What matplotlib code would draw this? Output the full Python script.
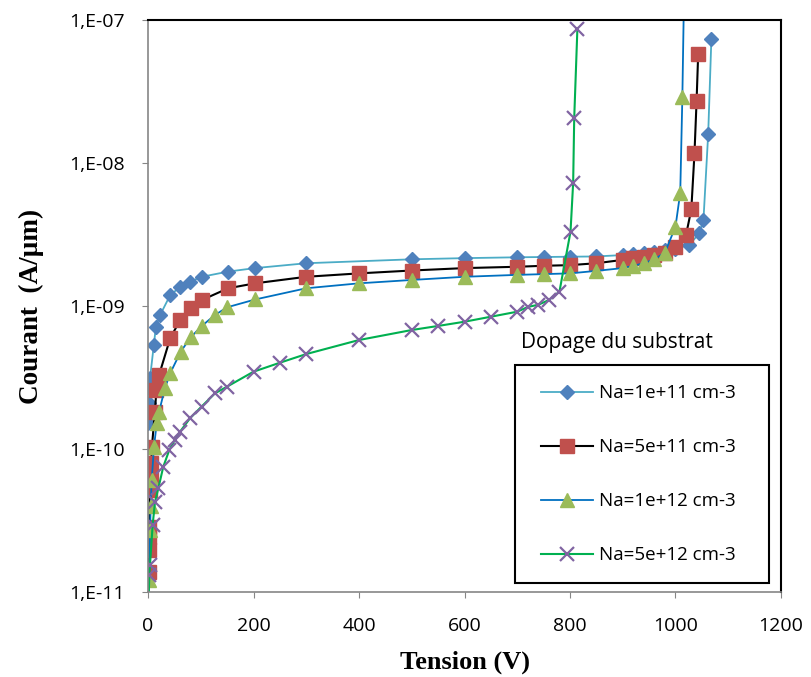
import math

import matplotlib
matplotlib.use('Agg')
import matplotlib.pyplot as plt
from matplotlib.patches import Rectangle
from matplotlib.ticker import FixedLocator, FuncFormatter, NullLocator

# Na = 1e+11 cm-3
v_1e11 = [0.6, 1.9, 2.5, 3.8, 11, 15, 23, 42, 61, 80, 102, 152, 203, 300, 500,
          600, 700, 750, 800, 850, 900, 920, 940, 960, 980, 1000, 1026, 1045,
          1053, 1062, 1068]
i_1e11 = [1.51e-10, 2.09e-10, 2.66e-10, 3.12e-10, 5.33e-10, 7.16e-10, 8.65e-10,
          1.19e-9, 1.36e-9, 1.48e-9, 1.60e-9, 1.74e-9, 1.84e-9, 1.99e-9, 2.12e-9,
          2.16e-9, 2.19e-9, 2.20e-9, 2.21e-9, 2.22e-9, 2.27e-9, 2.30e-9, 2.34e-9,
          2.40e-9, 2.45e-9, 2.52e-9, 2.67e-9, 3.22e-9, 3.99e-9, 1.60e-8, 7.33e-8]

# Na = 5e+11 cm-3
v_5e11 = [1, 1.5, 2, 2.5, 3.5, 5, 6, 7.5, 13, 16, 21, 42, 61, 81, 102, 152, 203,
          300, 400, 500, 600, 700, 750, 800, 850, 900, 920, 940, 960, 980, 1000,
          1020, 1030, 1036, 1040, 1043]
i_5e11 = [1.39e-11, 1.97e-11, 2.44e-11, 2.86e-11, 5.17e-11, 6.40e-11, 7.94e-11,
          1.04e-10, 1.82e-10, 2.59e-10, 3.29e-10, 5.94e-10, 7.98e-10, 9.63e-10,
          1.10e-9, 1.33e-9, 1.44e-9, 1.60e-9, 1.69e-9, 1.77e-9, 1.84e-9, 1.88e-9,
          1.91e-9, 1.93e-9, 1.99e-9, 2.10e-9, 2.15e-9, 2.21e-9, 2.27e-9, 2.36e-9,
          2.57e-9, 3.14e-9, 4.74e-9, 1.17e-8, 2.73e-8, 5.78e-8]

# Na = 1e+12 cm-3
v_1e12 = [0.3, 1.5, 4, 5, 7, 11.4, 16.5, 21, 32, 42, 62, 81, 102, 127, 150, 203,
          300, 400, 500, 600, 700, 750, 800, 850, 900, 920, 940, 960, 980, 1000,
          1009, 1013, 1018]
i_1e12 = [7e-12, 1.21e-11, 2.72e-11, 3.96e-11, 6.07e-11, 1.04e-10, 1.51e-10,
          1.82e-10, 2.66e-10, 3.38e-10, 4.79e-10, 6.04e-10, 7.25e-10, 8.65e-10,
          9.79e-10, 1.11e-9, 1.33e-9, 1.44e-9, 1.52e-9, 1.60e-9, 1.65e-9, 1.67e-9,
          1.69e-9, 1.76e-9, 1.84e-9, 1.91e-9, 1.99e-9, 2.12e-9, 2.36e-9, 3.59e-9,
          6.19e-9, 2.88e-8, 4e-7]

# Na = 5e+12 cm-3
v_5e12 = [0.3, 2.5, 3.8, 8.8, 13.3, 19.6, 29, 40.4, 51, 60.7, 79.6, 101.6, 127,
          150, 200, 250, 300, 400, 500, 550, 600, 650, 700, 720, 740, 760, 780,
          801, 806, 808, 814]
i_5e12 = [7e-12, 1.31e-11, 1.55e-11, 2.94e-11, 4.28e-11, 5.31e-11, 7.52e-11,
          9.84e-11, 1.16e-10, 1.32e-10, 1.64e-10, 1.98e-10, 2.45e-10, 2.73e-10,
          3.47e-10, 4.01e-10, 4.61e-10, 5.78e-10, 6.79e-10, 7.25e-10, 7.76e-10,
          8.41e-10, 9.12e-10, 9.84e-10, 1.02e-9, 1.10e-9, 1.26e-9, 3.31e-9,
          7.28e-9, 2.06e-8, 8.65e-8]

labels = ['Na=1e+11 cm-3', 'Na=5e+11 cm-3', 'Na=1e+12 cm-3', 'Na=5e+12 cm-3']
x_ticks = [0, 200, 400, 600, 800, 1000, 1200]
y_ticks = [1e-11, 1e-10, 1e-9, 1e-8, 1e-7]

font = 'Open Sans'
gray = '#868686'

fig = plt.figure(figsize=(8.11, 6.77), dpi=100)
ax = fig.add_axes([0.1825, 0.1256, 0.7805, 0.8449])

ax.plot(v_1e11, i_1e11, color='#4BACC6', lw=1.3, marker='D', ms=7,
        mfc='#4F81BD', mec='#4F81BD', label=labels[0])
ax.plot(v_5e11, i_5e11, color='black', lw=1.5, marker='s', ms=10.5,
        mfc='#C0504D', mec='#C0504D', label=labels[1])
ax.plot(v_1e12, i_1e12, color='#0070C0', lw=1.3, marker='^', ms=10.5,
        mfc='#9BBB59', mec='#9BBB59', markevery=slice(1, None), label=labels[2])
ax.plot(v_5e12, i_5e12, color='#00B050', lw=1.5, marker='x', ms=10, mew=1.6,
        mfc='#8064A2', mec='#8064A2', markevery=slice(1, None), label=labels[3])

ax.set_yscale('log')
ax.set_xlim(0, 1200)
ax.set_ylim(1e-11, 1e-7)
ax.xaxis.set_major_locator(FixedLocator(x_ticks))
ax.yaxis.set_major_locator(FixedLocator(y_ticks))
ax.yaxis.set_minor_locator(NullLocator())
ax.yaxis.set_major_formatter(FuncFormatter(
    lambda v, p: '1,E%03d' % round(math.log10(v)) if v > 0 else ''))

ax.tick_params(axis='both', which='major', direction='out', length=4,
               color=gray, labelsize=14)
ax.tick_params(axis='x', pad=14)
ax.tick_params(axis='y', pad=13)
for t in ax.get_xticklabels() + ax.get_yticklabels():
    t.set_fontfamily(font)

ax.spines['left'].set_color(gray)
ax.spines['bottom'].set_color(gray)
ax.spines['left'].set_linewidth(1.2)
ax.spines['bottom'].set_linewidth(1.2)
ax.spines['top'].set_linewidth(1.5)
ax.spines['right'].set_linewidth(1.5)

ax.set_xlabel('Tension (V)', fontfamily='Liberation Serif', fontweight='bold',
              fontsize=19, labelpad=11)
ax.set_ylabel('Courant  (A/µm)', fontfamily='Liberation Serif', fontweight='bold',
              fontsize=19.5, labelpad=18)

ax.text(0.589, 0.437, 'Dopage du substrat', transform=ax.transAxes,
        fontfamily=font, fontsize=15, va='center', ha='left')

# legend box drawn separately (wider side margins than top/bottom)
ax.add_patch(Rectangle((0.579, 0.0157), 0.402, 0.3813, transform=ax.transAxes,
                       fill=True, facecolor='white', edgecolor='black',
                       lw=1.5, zorder=4))
leg = ax.legend(loc='upper left', bbox_to_anchor=(0.6215, 0.363), borderaxespad=0,
                prop={'family': font, 'size': 13.5}, handlelength=2.75,
                handletextpad=0.3, labelspacing=1.92, borderpad=0,
                frameon=False)
leg.set_zorder(5)

fig.savefig('out.png', dpi=100)
